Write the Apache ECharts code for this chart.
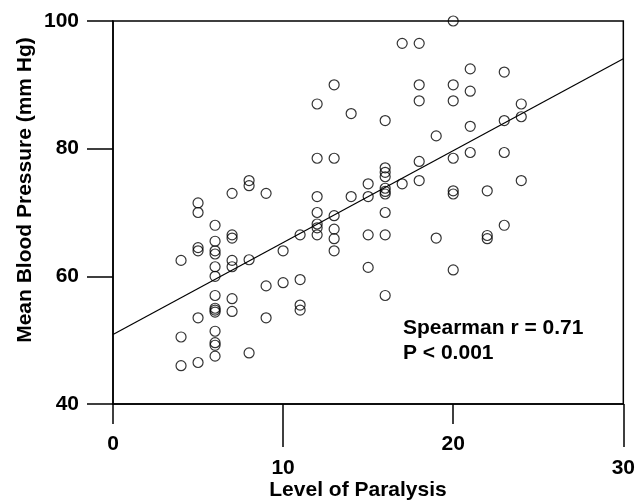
<!DOCTYPE html>
<html>
<head>
<meta charset="utf-8">
<script src="https://cdn.jsdelivr.net/npm/echarts@6/dist/echarts.min.js"></script>
<style>
    html, body { margin: 0; padding: 0; background: #fff; }
    #chart { width: 638px; height: 502px; }
</style>
</head>
<body>
<div id="chart"></div>
<script>
// level of paralysis vs mean blood pressure
var levels = [
    4, 4, 4,
    5, 5, 5, 5, 5, 5,
    6, 6, 6, 6, 6, 6, 6, 6, 6, 6, 6, 6, 6, 6,
    7, 7, 7, 7, 7, 7, 7,
    8, 8, 8, 8,
    9, 9, 9,
    10, 10,
    11, 11, 11, 11,
    12, 12, 12, 12, 12, 12, 12,
    13, 13, 13, 13, 13, 13,
    14, 14,
    15, 15, 15, 15,
    16, 16, 16, 16, 16, 16, 16, 16, 16, 16,
    17, 17,
    18, 18, 18, 18, 18,
    19, 19,
    20, 20, 20, 20, 20, 20, 20,
    21, 21, 21, 21,
    22, 22, 22,
    23, 23, 23, 23,
    24, 24, 24
];
var pressures = [
    62.5, 50.5, 46,
    71.5, 70, 64.5, 64, 53.5, 46.5,
    68, 65.5, 64, 63.5, 61.5, 60, 57, 55, 54.7, 54.4, 51.4, 49.6, 49.2, 47.5,
    73, 66.5, 66, 62.5, 61.5, 56.5, 54.5,
    75, 74.2, 62.6, 48,
    73, 58.5, 53.5,
    64, 59,
    66.5, 59.5, 55.5, 54.7,
    87, 78.5, 72.5, 70, 68.2, 67.6, 66.5,
    90, 78.5, 69.5, 67.4, 65.9, 64,
    85.5, 72.5,
    74.5, 72.5, 66.5, 61.4,
    84.4, 77, 76.3, 75.6, 73.8, 73.3, 72.9, 70, 66.5, 57,
    96.5, 74.5,
    96.5, 90, 87.5, 78, 75,
    82, 66,
    100, 90, 87.5, 78.5, 73.4, 72.9, 61,
    92.5, 89, 83.5, 79.4,
    73.4, 66.4, 65.9,
    92, 84.4, 79.4, 68,
    87, 85, 75
];
// fitted line end points
var fitX = [0, 30];
var fitY = [50.9, 94.1];
// tick labels (x labels are staggered in the original)
var xTicksHigh = [0, 20];
var xTicksLow = [10, 30];
var yTicks = [40, 60, 80, 100];

var FONT = '"Liberation Sans", Arial, sans-serif';

drawChart();

function drawChart() {
    var chart = echarts.init(document.getElementById('chart'));
    var points = [];
    for (var i = 0; i < levels.length; i++) {
        points.push([levels[i], pressures[i]]);
    }
    var fit = [];
    for (var j = 0; j < fitX.length; j++) {
        fit.push([fitX[j], fitY[j]]);
    }
    var labelStyle = {
        color: '#000',
        fontSize: 21,
        fontWeight: 'bold',
        fontFamily: FONT
    };
    var option = {
        animation: false,
        backgroundColor: '#fff',
        grid: {
            left: 113,
            right: 13,
            top: 21,
            bottom: 98,
            show: true,
            borderColor: '#000',
            borderWidth: 1.5,
            backgroundColor: 'transparent'
        },
        xAxis: [{
            type: 'value',
            min: 0,
            max: 30,
            position: 'bottom',
            axisLine: { onZero: false, lineStyle: { color: '#000', width: 1.5 } },
            axisTick: { customValues: xTicksHigh, length: 20, lineStyle: { color: '#000', width: 1.5 } },
            axisLabel: Object.assign({ customValues: xTicksHigh, margin: 30 }, labelStyle),
            splitLine: { show: false }
        }, {
            type: 'value',
            min: 0,
            max: 30,
            position: 'bottom',
            axisLine: { show: false, onZero: false },
            axisTick: { customValues: xTicksLow, length: 43, lineStyle: { color: '#000', width: 1.5 } },
            axisLabel: Object.assign({ customValues: xTicksLow, margin: 54 }, labelStyle),
            splitLine: { show: false }
        }],
        yAxis: {
            type: 'value',
            min: 40,
            max: 100,
            interval: 20,
            axisLine: { show: true, onZero: false, lineStyle: { color: '#000', width: 1.5 } },
            axisTick: { show: true, customValues: yTicks, length: 26, lineStyle: { color: '#000', width: 1.5 } },
            axisLabel: Object.assign({ customValues: yTicks, margin: 34 }, labelStyle),
            splitLine: { show: false }
        },
        graphic: [{
            type: 'text',
            x: 25,
            y: 190,
            rotation: Math.PI / 2,
            style: {
                text: 'Mean Blood Pressure (mm Hg)',
                font: 'bold 21px ' + FONT,
                fill: '#000',
                align: 'center',
                verticalAlign: 'middle'
            }
        }, {
            type: 'text',
            x: 358,
            y: 490,
            style: {
                text: 'Level of Paralysis',
                font: 'bold 21px ' + FONT,
                fill: '#000',
                align: 'center',
                verticalAlign: 'middle'
            }
        }, {
            type: 'text',
            x: 403,
            y: 328,
            style: {
                text: 'Spearman r = 0.71',
                font: 'bold 21px ' + FONT,
                fill: '#000',
                align: 'left',
                verticalAlign: 'middle'
            }
        }, {
            type: 'text',
            x: 403,
            y: 353,
            style: {
                text: 'P < 0.001',
                font: 'bold 21px ' + FONT,
                fill: '#000',
                align: 'left',
                verticalAlign: 'middle'
            }
        }],
        series: [{
            type: 'line',
            data: fit,
            showSymbol: false,
            lineStyle: { color: '#000', width: 1.2 },
            z: 1
        }, {
            type: 'scatter',
            data: points,
            symbol: 'circle',
            symbolSize: 10,
            itemStyle: { color: 'rgba(0,0,0,0)', borderColor: '#000', borderWidth: 1.2 },
            z: 2
        }]
    };
    chart.setOption(option);
}
</script>
</body>
</html>
